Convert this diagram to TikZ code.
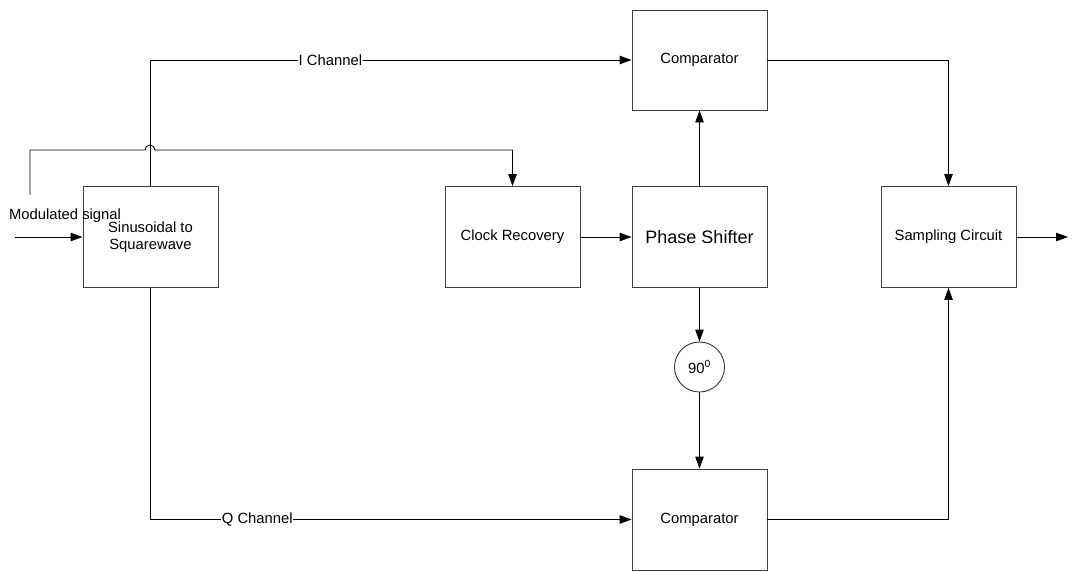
\documentclass[tikz,border=0pt]{standalone}
\usepackage{fontspec}
\setmainfont{Liberation Sans}
\usetikzlibrary{arrows.meta}
\begin{document}
\begin{tikzpicture}[x=1pt,y=-1pt,
  blk/.style={draw=black!75,line width=0.9pt,minimum width=135pt,minimum height=101pt,inner sep=0pt,align=center,font=\fontsize{14.8}{17.5}\selectfont},
  conn/.style={line width=0.9pt},
  arr/.style={conn,-{Triangle[length=12pt,width=8.5pt]}},
  lbl/.style={fill=white,inner sep=0.5pt,font=\fontsize{14.8}{17}\selectfont}]
\useasboundingbox (0,0) rectangle (1074,571);
% blocks
\node[blk] (sq) at (150.5,237) {Sinusoidal to\\Squarewave};
\node[blk] (cr) at (512.5,237) {Clock Recovery};
\node[blk,font=\fontsize{18}{21}\selectfont] (ps) at (699.5,237) {Phase Shifter};
\node[blk,minimum height=100pt] (c1) at (699.5,60) {Comparator};
\node[blk] (c2) at (699.5,519.5) {Comparator};
\node[blk] (sc) at (948.5,237) {Sampling Circuit};
\node[draw=black!80,line width=0.9pt,circle,minimum size=50pt,inner sep=0pt,font=\fontsize{14.8}{17}\selectfont] (ph) at (699.5,367) {90$^{\mathrm{0}}$};
% input
\coordinate (in) at (15,237);
\coordinate (fd) at (30,195);
\node[font=\fontsize{14.8}{17}\selectfont,inner sep=0pt] (ms) at (65,216) {Modulated signal};
\draw[arr] (in) -- (sq.west);
% feed to clock recovery with hop over I channel
\draw[arr] (fd) |- (145,150) arc (180:360:5) -- (cr.north |- 0,150) -- (cr.north);
% I channel
\draw[arr] (sq.north) |- node[lbl,pos=0.687]{I Channel} (c1.west);
% Q channel
\draw[arr] (sq.south) |- node[lbl,pos=0.611]{Q Channel} (c2.west);
% clock -> phase
\draw[arr] (cr.east) -- (ps.west);
\draw[arr] (ps.north) -- (c1.south);
\draw[arr] (ps.south) -- (ph.north);
\draw[arr] (ph.south) -- (c2.north);
% to sampling circuit
\draw[arr] (c1.east) -| (sc.north);
\draw[arr] (c2.east) -| (sc.south);
\coordinate (out) at (1068,237);
\draw[arr] (sc.east) -- (out);
\end{tikzpicture}
\end{document}
